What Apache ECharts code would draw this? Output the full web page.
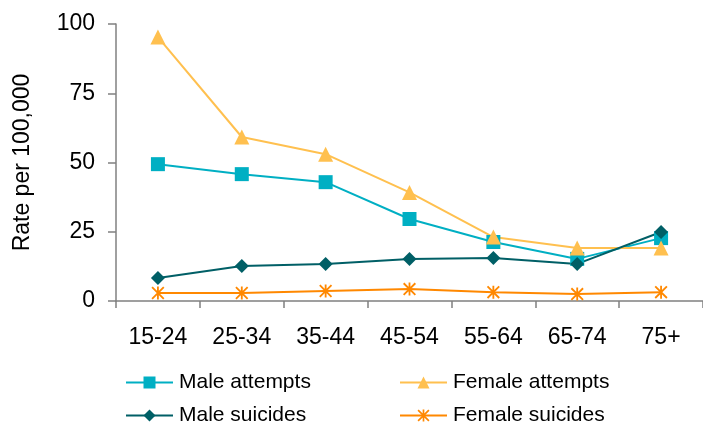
<!DOCTYPE html>
<html>
<head>
<meta charset="utf-8">
<script src="https://cdn.jsdelivr.net/npm/echarts@6/dist/echarts.min.js"></script>
<style>
  html, body { margin: 0; padding: 0; background: #ffffff; }
  #chart { width: 703px; height: 424px; }
</style>
</head>
<body>
<div id="chart"></div>
<script>
// Age bands on the horizontal axis
var ageGroups = ['15-24', '25-34', '35-44', '45-54', '55-64', '65-74', '75+'];

// Rates per 100,000 for each age band
var maleAttempts   = [49.4, 45.8, 42.9, 29.6, 21.3, 15.2, 22.7];
var femaleAttempts = [95.3, 59.2, 53.0, 39.2, 23.1, 19.1, 19.1];
var maleSuicides   = [8.3, 12.6, 13.4, 15.2, 15.5, 13.4, 24.9];
var femaleSuicides = [2.9, 2.9, 3.6, 4.3, 3.2, 2.5, 3.2];

// Value axis ticks
var yTicks = [0, 25, 50, 75, 100];

var seriesNames = ['Male attempts', 'Female attempts', 'Male suicides', 'Female suicides'];

// Asterisk marker: vertical bar plus two diagonals
var asterisk = 'path://M8.6,0 L11.4,0 L11.4,20 L8.6,20 Z ' +
  'M0,2 L2,0 L20,18 L18,20 Z ' +
  'M18,0 L20,2 L2,20 L0,18 Z';

var FONT = 'Liberation Sans, Arial, sans-serif';
var AXIS_GREY = '#808080';

function lineSeries(name, data, color, symbol, size) {
  return {
    name: name,
    type: 'line',
    data: data,
    symbol: symbol,
    symbolSize: size,
    showSymbol: true,
    lineStyle: { color: color, width: 2 },
    itemStyle: { color: color },
    emphasis: { disabled: true },
    animation: false
  };
}

function legendAt(name, left, top) {
  return {
    data: [name],
    left: left,
    top: top,
    orient: 'horizontal',
    itemWidth: 47,
    itemHeight: 15,
    itemGap: 0,
    padding: 0,
    textStyle: { fontFamily: FONT, fontSize: 21, color: '#000000', padding: [0, 0, 0, 1] },
    selectedMode: false
  };
}

var chart = echarts.init(document.getElementById('chart'), null, { renderer: 'canvas' });

chart.setOption({
  backgroundColor: '#ffffff',
  animation: false,
  grid: { left: 116, top: 24, right: -1, bottom: 123, containLabel: false },
  legend: [
    legendAt(seriesNames[0], 125, 372),
    legendAt(seriesNames[1], 399, 372),
    legendAt(seriesNames[2], 125, 405),
    legendAt(seriesNames[3], 399, 405)
  ],
  xAxis: {
    type: 'category',
    data: ageGroups,
    boundaryGap: true,
    axisLine: { lineStyle: { color: AXIS_GREY, width: 1.5 } },
    axisTick: { show: true, length: 7, lineStyle: { color: AXIS_GREY, width: 1.5 } },
    axisLabel: { fontFamily: FONT, fontSize: 23, color: '#000000', margin: 25 },
    splitLine: { show: false }
  },
  yAxis: {
    type: 'value',
    min: yTicks[0],
    max: yTicks[yTicks.length - 1],
    interval: yTicks[1] - yTicks[0],
    name: 'Rate per 100,000',
    nameLocation: 'middle',
    nameRotate: 90,
    nameGap: 82,
    nameTextStyle: { fontFamily: FONT, fontSize: 23, color: '#000000' },
    axisLine: { show: true, lineStyle: { color: AXIS_GREY, width: 1.5 } },
    axisTick: { show: true, length: 8, lineStyle: { color: AXIS_GREY, width: 1.5 } },
    axisLabel: { fontFamily: FONT, fontSize: 23, color: '#000000', margin: 21 },
    splitLine: { show: false }
  },
  series: [
    lineSeries(seriesNames[0], maleAttempts, '#00AFC3', 'rect', 14),
    lineSeries(seriesNames[1], femaleAttempts, '#FFC04F', 'triangle', 15),
    lineSeries(seriesNames[2], maleSuicides, '#005F66', 'diamond', 14),
    lineSeries(seriesNames[3], femaleSuicides, '#FF8800', asterisk, 13)
  ]
});
</script>
</body>
</html>
